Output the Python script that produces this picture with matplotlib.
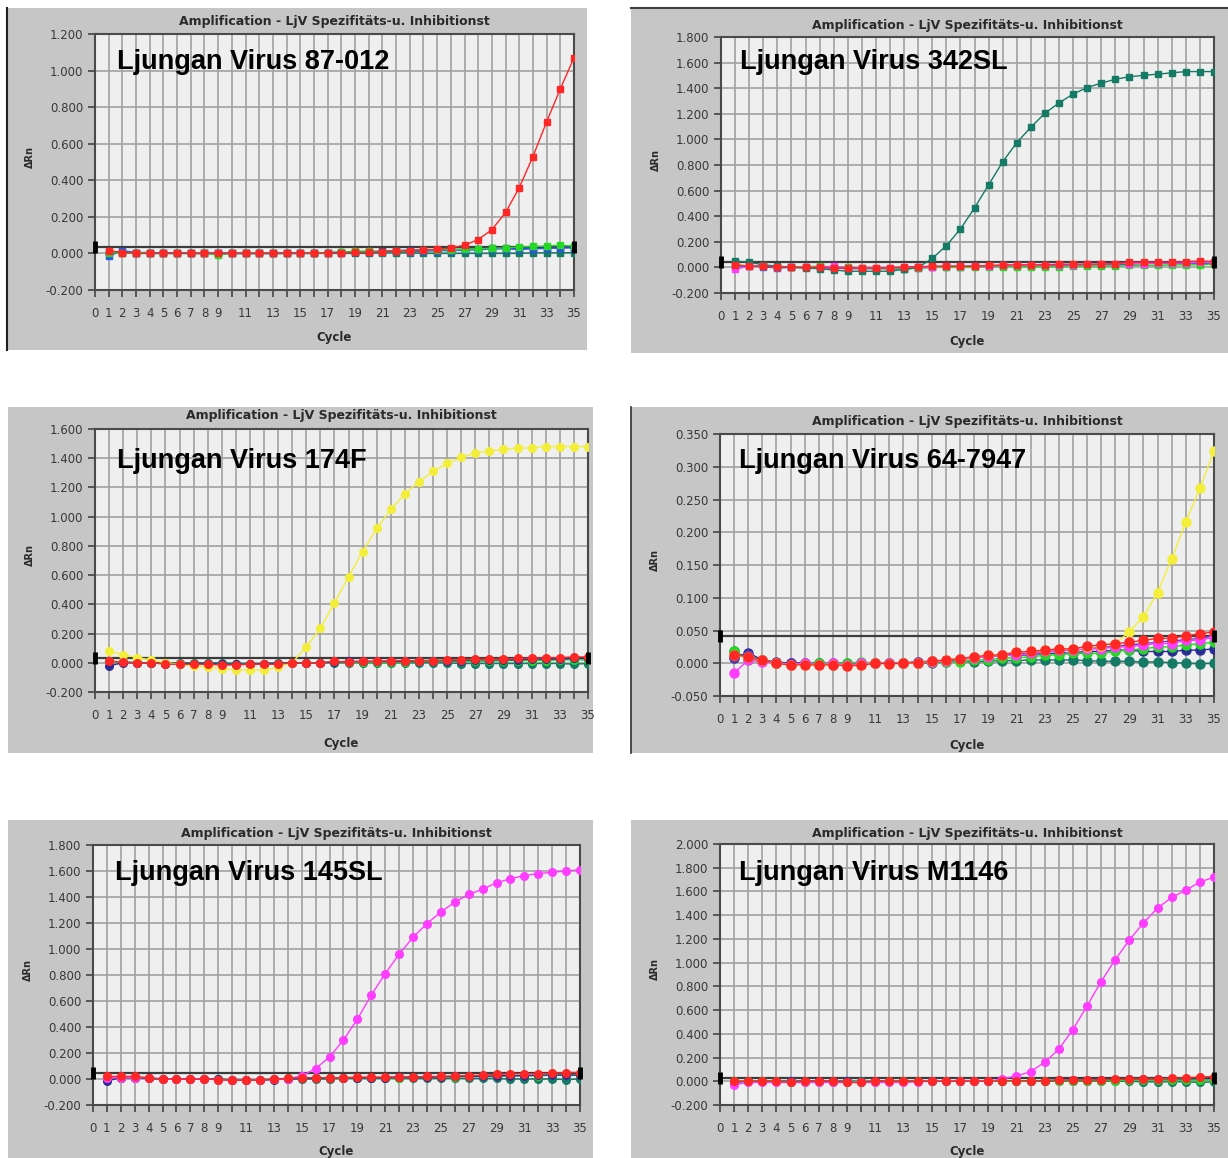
import numpy as np
import matplotlib
matplotlib.use("Agg")
import matplotlib.pyplot as plt
from matplotlib.patches import Rectangle
from matplotlib.lines import Line2D

W, H = 1228, 1158

cycles = list(range(1, 36))

# --- Ljungan Virus 87-012 (red amplifies) ---
p1_red = [0.015, 0.005, 0.000, 0.000, 0.000, 0.000, 0.000, 0.000, 0.000, 0.000, 0.000, 0.000,
          0.000, 0.000, 0.000, 0.003, 0.004, 0.005, 0.006, 0.006, 0.010, 0.012, 0.016, 0.020,
          0.022, 0.030, 0.045, 0.076, 0.130, 0.224, 0.360, 0.530, 0.720, 0.900, 1.070]
p1_blue = [-0.015, 0.015, 0.005, 0.005, 0.000, 0.005, 0.000, 0.000, 0.000, 0.000, 0.000, 0.000,
           0.000, 0.003, 0.005, 0.000, 0.002, 0.005, 0.008, 0.008, 0.008, 0.015, 0.010, 0.012,
           0.015, 0.015, 0.018, 0.020, 0.025, 0.025, 0.022, 0.025, 0.028, 0.030, 0.030]
p1_green = [0.005, 0.000, 0.005, 0.000, 0.000, 0.000, 0.000, 0.000, -0.008, 0.000, 0.000, 0.000,
            0.000, 0.000, 0.000, 0.002, 0.004, 0.008, 0.012, 0.012, 0.010, 0.012, 0.015, 0.018,
            0.020, 0.020, 0.022, 0.025, 0.028, 0.030, 0.035, 0.038, 0.040, 0.045, 0.040]
p1_teal = [0.010, 0.005, 0.000, 0.000, 0.000, 0.000, 0.000, 0.000, 0.000, 0.000, 0.000, 0.000,
           0.000, 0.000, 0.000, 0.000, 0.000, 0.000, 0.000, 0.000, 0.003, 0.003, 0.003, 0.000,
           0.000, 0.000, 0.000, 0.000, 0.000, 0.000, 0.000, 0.003, 0.003, 0.003, 0.005]
p1_navy = [0.005, 0.010, 0.005, 0.003, 0.000, 0.003, 0.000, 0.000, 0.000, 0.000, 0.000, 0.000,
           0.000, 0.000, 0.000, 0.000, 0.003, 0.008, 0.010, 0.010, 0.012, 0.015, 0.018, 0.018,
           0.020, 0.022, 0.022, 0.025, 0.028, 0.030, 0.028, 0.030, 0.030, 0.032, 0.035]

# --- Ljungan Virus 342SL (teal amplifies) ---
p2_teal = [0.050, 0.040, 0.020, 0.010, 0.000, -0.005, -0.010, -0.020, -0.030, -0.030, -0.030,
           -0.030, -0.015, 0.000, 0.070, 0.170, 0.300, 0.465, 0.645, 0.825, 0.975, 1.095, 1.205,
           1.285, 1.355, 1.405, 1.440, 1.470, 1.490, 1.500, 1.510, 1.520, 1.530, 1.530, 1.530]
p2_red = [0.020, 0.010, 0.010, 0.005, 0.000, 0.000, 0.000, -0.005, -0.005, -0.005, -0.005, -0.005,
          0.005, 0.005, 0.010, 0.010, 0.010, 0.010, 0.015, 0.020, 0.020, 0.020, 0.020, 0.025,
          0.025, 0.025, 0.025, 0.030, 0.040, 0.040, 0.040, 0.040, 0.045, 0.050, 0.045]
p2_blue = [0.010, 0.010, 0.005, -0.005, 0.000, 0.000, 0.000, -0.005, -0.010, -0.010, -0.010,
           -0.010, -0.010, -0.005, 0.000, 0.005, 0.005, 0.010, 0.010, 0.010, 0.010, 0.010, 0.010,
           0.015, 0.015, 0.020, 0.020, 0.020, 0.025, 0.030, 0.030, 0.030, 0.030, 0.030, 0.035]
p2_green = [0.020, 0.010, 0.010, 0.005, 0.005, 0.005, 0.010, 0.005, 0.000, -0.005, -0.010, -0.010,
            -0.015, -0.005, 0.000, 0.000, 0.000, 0.000, 0.005, 0.005, 0.005, 0.005, 0.005, 0.005,
            0.010, 0.010, 0.010, 0.010, 0.015, 0.015, 0.015, 0.020, 0.020, 0.020, 0.025]
p2_magenta = [-0.015, 0.010, 0.010, 0.005, 0.000, 0.000, 0.000, 0.010, -0.005, -0.005, -0.005,
              -0.005, 0.000, 0.000, 0.005, 0.010, 0.010, 0.010, 0.010, 0.015, 0.015, 0.020, 0.020,
              0.020, 0.020, 0.025, 0.025, 0.030, 0.030, 0.030, 0.035, 0.035, 0.035, 0.040, 0.040]

# --- Ljungan Virus 174F (yellow amplifies) ---
p3_yellow = [0.080, 0.055, 0.035, 0.020, 0.000, -0.010, -0.020, -0.030, -0.040, -0.050, -0.050,
             -0.050, -0.030, 0.000, 0.110, 0.235, 0.410, 0.590, 0.760, 0.920, 1.050, 1.157,
             1.240, 1.310, 1.365, 1.405, 1.435, 1.450, 1.460, 1.470, 1.470, 1.480, 1.480, 1.480,
             1.480]
p3_red = [0.010, 0.005, 0.000, 0.000, -0.010, -0.010, -0.010, -0.010, -0.015, -0.015, -0.010,
          -0.010, -0.010, 0.000, 0.000, 0.000, 0.010, 0.005, 0.010, 0.010, 0.015, 0.015, 0.015,
          0.015, 0.020, 0.020, 0.025, 0.025, 0.025, 0.030, 0.030, 0.035, 0.035, 0.040, 0.040]
p3_navy = [-0.020, 0.000, 0.000, 0.000, -0.005, -0.005, -0.005, -0.005, -0.010, -0.010, -0.010,
           -0.005, -0.005, 0.000, 0.000, 0.000, 0.005, 0.010, 0.010, 0.010, 0.010, 0.010, 0.015,
           0.015, 0.015, 0.015, 0.020, 0.020, 0.020, 0.020, 0.025, 0.025, 0.025, 0.030, 0.030]
p3_green = [0.010, 0.005, 0.000, 0.000, -0.005, -0.005, -0.005, -0.010, -0.010, -0.010, -0.010,
            -0.010, -0.005, 0.000, 0.000, 0.000, 0.005, 0.005, 0.005, 0.005, 0.005, 0.005, 0.010,
            0.010, 0.010, 0.010, 0.010, 0.010, 0.015, 0.015, 0.015, 0.015, 0.020, 0.020, 0.020]
p3_teal = [0.010, 0.005, 0.000, 0.000, 0.000, 0.000, 0.000, 0.000, 0.000, -0.005, -0.005, -0.005,
           0.000, 0.000, 0.000, 0.000, 0.000, 0.000, 0.000, 0.000, 0.000, 0.000, 0.000, 0.000,
           0.000, -0.005, -0.005, -0.005, -0.005, -0.005, -0.005, -0.005, -0.005, -0.010, -0.005]

# --- Ljungan Virus 64-7947 (yellow amplifies late) ---
p4_yellow = [0.012, 0.010, 0.005, 0.000, -0.003, -0.002, -0.003, -0.002, -0.004, -0.003, 0.000,
             -0.001, 0.000, 0.001, 0.003, 0.005, 0.007, 0.010, 0.012, 0.013, 0.017, 0.018, 0.020,
             0.022, 0.022, 0.025, 0.027, 0.030, 0.048, 0.071, 0.108, 0.159, 0.216, 0.267, 0.324]
p4_red = [0.013, 0.010, 0.005, 0.000, -0.003, -0.002, -0.003, -0.002, -0.004, -0.003, 0.000,
          -0.001, 0.000, 0.001, 0.003, 0.005, 0.007, 0.010, 0.012, 0.013, 0.017, 0.018, 0.020,
          0.022, 0.022, 0.026, 0.028, 0.030, 0.032, 0.035, 0.038, 0.038, 0.042, 0.045, 0.048]
p4_navy = [0.008, 0.016, 0.005, 0.002, 0.000, 0.000, 0.000, -0.002, -0.002, 0.000, 0.000, 0.000,
           0.000, 0.002, 0.003, 0.004, 0.006, 0.008, 0.010, 0.012, 0.012, 0.013, 0.015, 0.015,
           0.016, 0.018, 0.018, 0.020, 0.020, 0.018, 0.018, 0.018, 0.020, 0.020, 0.022]
p4_purple = [0.010, 0.012, 0.004, 0.001, 0.000, 0.001, -0.001, 0.000, -0.002, 0.000, 0.000,
             0.000, 0.001, 0.002, 0.003, 0.004, 0.006, 0.009, 0.011, 0.012, 0.014, 0.016, 0.018,
             0.019, 0.020, 0.022, 0.024, 0.026, 0.028, 0.030, 0.032, 0.034, 0.036, 0.038, 0.042]
p4_green = [0.018, 0.005, 0.003, 0.000, -0.002, 0.000, 0.000, 0.000, 0.000, 0.002, 0.000, 0.000,
            0.000, 0.000, 0.002, 0.002, 0.002, 0.005, 0.005, 0.008, 0.008, 0.010, 0.012, 0.013,
            0.015, 0.015, 0.015, 0.018, 0.020, 0.022, 0.025, 0.025, 0.028, 0.030, 0.032]
p4_teal = [0.018, 0.008, 0.005, 0.000, 0.000, 0.000, 0.000, 0.000, 0.000, 0.000, 0.000, 0.000,
           0.000, 0.000, 0.000, 0.002, 0.003, 0.002, 0.003, 0.004, 0.004, 0.005, 0.005, 0.005,
           0.005, 0.004, 0.003, 0.003, 0.003, 0.002, 0.002, 0.001, 0.000, -0.001, 0.000]
p4_magenta = [-0.015, 0.005, 0.002, 0.000, -0.002, 0.000, -0.002, 0.000, -0.003, 0.000, 0.000,
              0.000, 0.000, 0.000, 0.002, 0.004, 0.006, 0.008, 0.010, 0.012, 0.012, 0.015, 0.018,
              0.020, 0.020, 0.022, 0.022, 0.025, 0.025, 0.028, 0.030, 0.030, 0.035, 0.035, 0.040]

# --- Ljungan Virus 145SL (magenta amplifies) ---
p5_magenta = [0.010, 0.010, 0.010, 0.010, 0.000, 0.000, 0.000, 0.000, -0.005, -0.010, -0.010,
              -0.010, 0.000, 0.000, 0.025, 0.080, 0.170, 0.300, 0.460, 0.646, 0.810, 0.960, 1.090,
              1.195, 1.285, 1.360, 1.420, 1.460, 1.510, 1.540, 1.565, 1.580, 1.590, 1.600, 1.610]
p5_red = [0.020, 0.020, 0.020, 0.010, 0.000, 0.000, 0.000, 0.000, -0.005, -0.010, -0.010, -0.010,
          0.000, 0.005, 0.010, 0.010, 0.010, 0.010, 0.015, 0.015, 0.015, 0.015, 0.015, 0.020,
          0.020, 0.025, 0.025, 0.030, 0.035, 0.040, 0.040, 0.040, 0.045, 0.050, 0.050]
p5_navy = [-0.015, 0.010, 0.010, 0.005, 0.000, 0.000, 0.000, 0.000, 0.000, -0.010, -0.010, -0.010,
           -0.005, 0.000, 0.005, 0.005, 0.010, 0.010, 0.010, 0.010, 0.010, 0.015, 0.015, 0.015,
           0.015, 0.020, 0.020, 0.020, 0.025, 0.025, 0.025, 0.030, 0.030, 0.030, 0.030]
p5_green = [0.010, 0.010, 0.010, 0.005, 0.000, 0.000, 0.000, 0.000, 0.000, -0.005, -0.005, -0.005,
            0.000, 0.005, 0.005, 0.005, 0.005, 0.010, 0.010, 0.010, 0.010, 0.010, 0.015, 0.015,
            0.015, 0.015, 0.020, 0.020, 0.020, 0.025, 0.025, 0.025, 0.030, 0.030, 0.035]
p5_teal = [0.010, 0.010, 0.005, 0.005, 0.000, 0.000, 0.000, 0.000, 0.000, -0.005, -0.005, -0.005,
           0.000, 0.000, 0.000, 0.000, 0.000, 0.005, 0.005, 0.005, 0.005, 0.005, 0.005, 0.005,
           0.005, 0.005, 0.005, 0.005, 0.005, 0.000, 0.000, 0.000, 0.000, -0.005, 0.000]

# --- Ljungan Virus M1146 (magenta amplifies) ---
p6_magenta = [-0.030, -0.010, -0.010, -0.010, -0.010, -0.010, -0.010, -0.010, -0.010, -0.010,
              -0.010, -0.010, -0.010, -0.005, 0.000, 0.000, 0.000, 0.000, 0.000, 0.020, 0.045,
              0.080, 0.160, 0.270, 0.435, 0.634, 0.840, 1.025, 1.190, 1.335, 1.460, 1.550, 1.610,
              1.680, 1.720]
p6_red = [0.000, 0.000, 0.000, 0.000, -0.010, 0.000, 0.000, 0.000, -0.010, -0.010, 0.000, 0.000,
          0.000, 0.000, 0.000, 0.000, 0.000, 0.000, 0.000, 0.005, 0.005, 0.005, 0.005, 0.010,
          0.010, 0.010, 0.010, 0.015, 0.020, 0.020, 0.020, 0.025, 0.030, 0.035, 0.040]
p6_green = [0.000, 0.000, 0.000, 0.000, -0.005, -0.005, -0.005, -0.005, -0.005, -0.005, -0.005,
            0.000, 0.000, 0.000, 0.000, 0.000, 0.000, 0.000, 0.000, 0.000, 0.000, 0.005, 0.005,
            0.005, 0.005, 0.005, 0.005, 0.005, 0.010, 0.010, 0.010, 0.010, 0.010, 0.010, 0.010]
p6_teal = [0.000, 0.000, 0.000, 0.000, 0.000, 0.000, 0.000, 0.000, 0.000, 0.000, 0.000, 0.000,
           0.000, 0.000, 0.000, 0.000, 0.000, 0.000, 0.000, 0.000, 0.000, 0.000, 0.000, 0.000,
           0.000, 0.000, 0.000, 0.000, 0.000, -0.005, -0.005, -0.005, -0.005, -0.010, -0.005]
p6_navy = [-0.010, 0.000, 0.000, 0.000, 0.000, 0.000, 0.000, 0.000, 0.000, -0.005, 0.000, 0.000,
           0.000, 0.000, 0.000, 0.000, 0.000, 0.000, 0.000, 0.000, 0.005, 0.005, 0.005, 0.010,
           0.010, 0.010, 0.010, 0.010, 0.015, 0.015, 0.015, 0.015, 0.015, 0.020, 0.020]

virus_names = ["Ljungan Virus 87-012", "Ljungan Virus 342SL", "Ljungan Virus 174F",
               "Ljungan Virus 64-7947", "Ljungan Virus 145SL", "Ljungan Virus M1146"]
thresholds = [0.035, 0.040, 0.030, 0.041, 0.045, 0.030]
y_limits = [(-0.2, 1.2), (-0.2, 1.8), (-0.2, 1.6), (-0.05, 0.35), (-0.2, 1.8), (-0.2, 2.0)]
y_steps = [0.2, 0.2, 0.2, 0.05, 0.2, 0.2]

RED, BLUE, NAVY, GREEN = "#ff2626", "#2f55e6", "#2c2c96", "#24d824"
TEAL, MAGENTA, YELLOW, PURPLE = "#157a66", "#ff3cff", "#f2ee3a", "#6a3cb8"

series = [
    [(p1_teal, TEAL), (p1_navy, NAVY), (p1_blue, BLUE), (p1_green, GREEN), (p1_red, RED)],
    [(p2_blue, BLUE), (p2_green, GREEN), (p2_magenta, MAGENTA), (p2_teal, TEAL), (p2_red, RED)],
    [(p3_teal, TEAL), (p3_green, GREEN), (p3_navy, NAVY), (p3_yellow, YELLOW), (p3_red, RED)],
    [(p4_teal, TEAL), (p4_navy, NAVY), (p4_purple, PURPLE), (p4_green, GREEN),
     (p4_magenta, MAGENTA), (p4_yellow, YELLOW), (p4_red, RED)],
    [(p5_teal, TEAL), (p5_green, GREEN), (p5_navy, NAVY), (p5_magenta, MAGENTA), (p5_red, RED)],
    [(p6_teal, TEAL), (p6_navy, NAVY), (p6_green, GREEN), (p6_magenta, MAGENTA), (p6_red, RED)],
]

# layout in pixels: grey box (x0, y0, x1, y1), axes (left, right, top, bottom)
boxes = [(8, 8, 587, 350), (631, 8, 1228, 353), (8, 407, 593, 753),
         (631, 407, 1228, 753), (8, 820, 593, 1158), (631, 820, 1228, 1158)]
frames = [(95, 574, 34, 290), (721, 1214, 37, 293), (95, 588, 429, 692),
          (720, 1214, 434, 696), (93, 580, 845, 1105), (720, 1214, 844, 1105)]
title_y = [22, 25, 416, 422, 833, 833]
cycle_y = [338, 342, 743, 745, 1152, 1152]
name_y = [62, 62, 461, 461, 873, 873]


def fx(x):
    return x / W


def fy(y):
    return 1 - y / H


fig = plt.figure(figsize=(W / 100, H / 100), dpi=100, facecolor="white")

for i in range(6):
    x0, y0, x1, y1 = boxes[i]
    fig.patches.append(Rectangle((fx(x0), fy(y1)), (x1 - x0) / W, (y1 - y0) / H,
                                 transform=fig.transFigure, facecolor="#c6c6c6",
                                 edgecolor="none", zorder=-5))
    left, right, top, bottom = frames[i]
    ax = fig.add_axes([fx(left), fy(bottom), (right - left) / W, (bottom - top) / H])
    ax.set_zorder(2)
    ax.set_facecolor("#efefef")

    lo, hi = y_limits[i]
    step = y_steps[i]
    yt = np.round(np.arange(lo, hi + step / 2, step), 3)
    ax.set_ylim(lo, hi)
    ax.set_xlim(0, 35)
    ax.set_yticks(yt)
    ax.set_yticklabels([f"{v:.3f}" for v in yt])
    ax.set_xticks(range(36))
    ax.set_xticklabels([str(c) if c <= 9 or c % 2 == 1 else "" for c in range(36)])
    ax.grid(True, color="#a2a2a2", lw=1.2)
    ax.set_axisbelow(True)
    ax.tick_params(axis="both", direction="out", length=5, width=1.2, color="#444444",
                   labelsize=8.5, labelcolor="#383838")
    ax.tick_params(axis="x", pad=7)
    for sp in ax.spines.values():
        sp.set_color("#4a4a4a")
        sp.set_linewidth(1.5)

    thr = thresholds[i]
    ax.plot([0, 35], [thr, thr], color="#3c3c3c", lw=1.6, zorder=2)
    ax.plot([0, 35], [thr, thr], ls="none", marker="|", ms=9, mew=3.5, color="black",
            clip_on=False, zorder=5)

    mk = "s" if i < 2 else "o"
    ms = 4.5 if i < 2 else 5.5
    if i == 3:
        ms = 6.5
    for vals, col in series[i]:
        ax.plot(cycles, vals, color=col, lw=1.0, marker=mk, ms=ms, mec=col, mfc=col,
                zorder=3, clip_on=True)

    cx = (left + right) / 2
    fig.text(fx(cx), fy(title_y[i]), "Amplification - LjV Spezifitäts-u. Inhibitionst",
             ha="center", va="center", fontsize=9, fontweight="bold", color="#2a2a2a")
    fig.text(fx(cx), fy(cycle_y[i]), "Cycle", ha="center", va="center", fontsize=8.5,
             fontweight="bold", color="#2a2a2a")
    fig.text(fx(left - 65), fy((top + bottom) / 2 - 5), "ΔRn", ha="center", va="center",
             rotation=90, fontsize=7, fontweight="bold", color="#2a2a2a")
    fig.text(fx(left + 22 if i % 2 == 0 else left + 19), fy(name_y[i]), virus_names[i],
             ha="left", va="center", fontsize=19.5, fontweight="bold",
             family="Liberation Sans", color="black", zorder=6)

# dark screen-capture edges around some panels
fig.add_artist(Line2D([fx(7), fx(7)], [fy(8), fy(350)], color="#202020", lw=1.5))
fig.add_artist(Line2D([fx(631), fx(1228)], [fy(8), fy(8)], color="#404040", lw=1.5))
fig.add_artist(Line2D([fx(631), fx(631)], [fy(407), fy(753)], color="#303030", lw=1.2))

fig.savefig("out.png", dpi=100, facecolor="white")
